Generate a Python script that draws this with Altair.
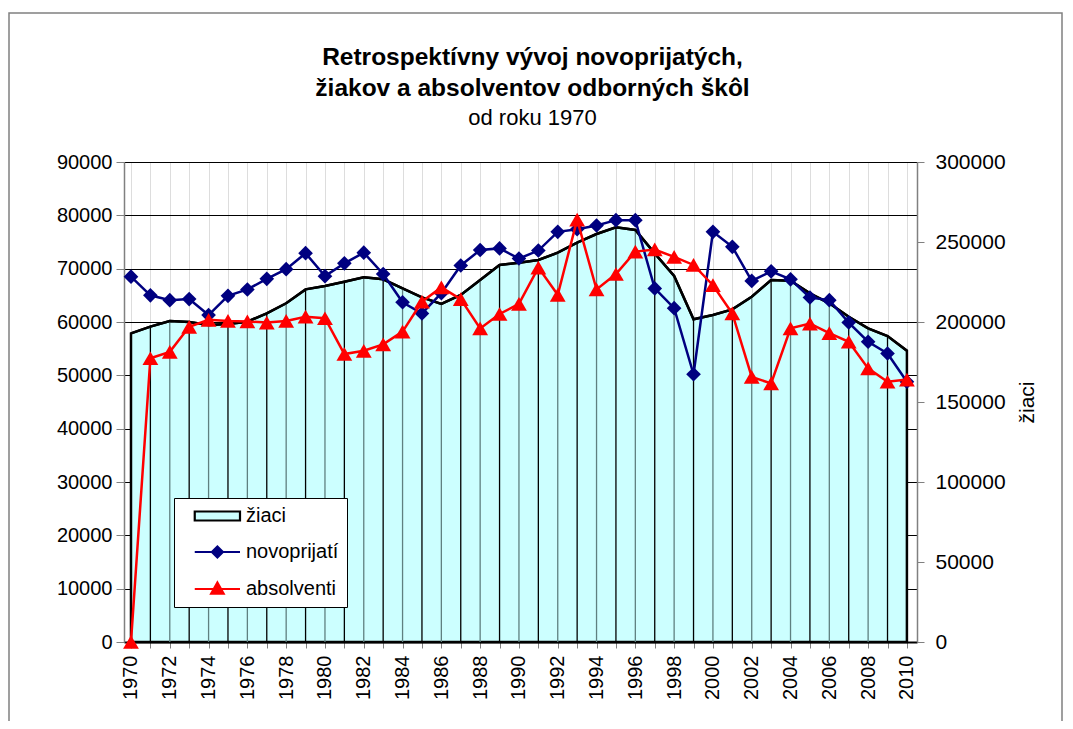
import altair as alt
import pandas as pd

years = list(range(1970, 2011))

ziaci = [192900, 197100, 200600, 200000, 198100, 198750, 200200, 205400, 211700, 220400,
         222500, 225200, 227900, 226700, 221000, 215400, 211250, 216900, 226250, 235600,
         237100, 238750, 243300, 249600, 255000, 259200, 257500, 242900, 228750, 201700,
         204400, 207900, 215800, 226250, 225800, 217900, 211700, 203300, 196000, 191250,
         182100]

novoprijati = [68500, 65000, 64100, 64300, 61300, 64900, 66100, 68100, 69900, 72900,
               68600, 71000, 73000, 69000, 63700, 61600, 65400, 70600, 73500, 73800,
               71900, 73400, 76900, 77400, 78100, 79100, 79100, 66300, 62600, 50200,
               76900, 74100, 67700, 69500, 68000, 64600, 64100, 59900, 56300, 54100,
               48800]

absolventi = [0, 53200, 54400, 59100, 60400, 60200, 60100, 59900, 60200, 61000,
              60700, 54000, 54600, 55800, 58200, 63800, 66500, 64300, 58800, 61500,
              63400, 70200, 65100, 79200, 66100, 69000, 73200, 73600, 72200, 70700,
              66900, 61600, 49700, 48500, 58800, 59700, 57900, 56300, 51300, 48800,
              49200]

series_names = ["žiaci", "novoprijatí", "absolventi"]
series_fill = ["#CCFFFF", "#000080", "#FF0000"]
series_stroke = ["#000000", "#000080", "#FF0000"]
legend_paths = [
    "M0.55,-0.9H9.6V0.9H0.55Z",
    "M0.55,0H9.6M5.08,-1.1L6.18,0L5.08,1.1L3.98,0Z",
    "M0.55,0H9.6M5.08,-1.3L6.33,0.95L3.83,0.95Z",
]

FONT = "Liberation Sans"

df_z = pd.DataFrame({"year": years, "ziaci": ziaci})
df_z["base"] = 0
df_z["dc"] = ["#000000" if (i % 2 == 1 or i == 0 or i == len(years) - 1) else "#5F8080"
              for i in range(len(years))]

df_l = pd.concat([
    pd.DataFrame({"year": years, "value": novoprijati, "series": "novoprijatí"}),
    pd.DataFrame({"year": years, "value": absolventi, "series": "absolventi"}),
], ignore_index=True)

x_enc = alt.X(
    "year:Q",
    scale=alt.Scale(domain=[1969.64, 2010.52], nice=False, zero=False),
    axis=alt.Axis(
        values=years, format="d",
        labelExpr="datum.value % 2 == 0 ? datum.label : ''",
        labelAngle=-90, labelFontSize=20, labelFont=FONT, labelColor="black",
        labelOverlap=False, labelFlush=False, labelBound=False, labelPadding=7,
        tickSize=6, tickColor="#808080", domainColor="black", domainWidth=2,
        title=None,
    ),
)

y_right = alt.Y(
    "ziaci:Q",
    scale=alt.Scale(domain=[0, 300000], nice=False, zero=True),
    axis=alt.Axis(
        orient="right", values=list(range(0, 300001, 50000)), format="d",
        grid=False, labelFontSize=21, labelFont=FONT, labelColor="black",
        tickSize=7, tickColor="#808080", domainColor="#808080", domainWidth=1.5,
        labelPadding=11,
        title="žiaci", titleFont=FONT, titleFontSize=21, titleFontWeight="normal",
        titleColor="black", titleAngle=270, titlePadding=32,
    ),
)

y_left = alt.Y(
    "value:Q",
    scale=alt.Scale(domain=[0, 90000], nice=False, zero=True),
    axis=alt.Axis(
        orient="left", values=list(range(0, 90001, 10000)), format="d",
        grid=True, gridColor="black", gridWidth=1, gridOpacity=1,
        labelFontSize=20, labelFont=FONT, labelColor="black",
        tickSize=8, tickColor="#808080", domainColor="#808080", domainWidth=1.5,
        labelPadding=4, title=None,
    ),
)

color_scale = alt.Scale(domain=series_names, range=series_fill)

# outer frame of the chart area
frame = alt.Chart(pd.DataFrame({"k": [0]})).mark_rect(
    fill="transparent", stroke="#808080", strokeWidth=1.5
).encode(
    x=alt.value(-115), x2=alt.value(938), y=alt.value(-149), y2=alt.value(700)
)

area = alt.Chart(df_z).mark_area(
    fill="#CCFFFF", stroke="black", strokeWidth=2.5, opacity=1
).encode(x=x_enc, y=y_right)

drops = alt.Chart(df_z).mark_rule(strokeWidth=1.3).encode(
    x=x_enc,
    y=alt.Y("ziaci:Q"),
    y2=alt.Y2("base:Q"),
    color=alt.Color("dc:N", scale=None),
)

ztop = alt.Chart(df_z).mark_line(color="black", strokeWidth=2.5).encode(
    x=x_enc, y=alt.Y("ziaci:Q")
)

right_layer = alt.layer(area, drops, ztop)

base = alt.Chart(df_l)


def series_layers(name, color, shape, size):
    sub = base.transform_filter(alt.datum.series == name)
    ln = sub.mark_line(strokeWidth=2.5, color=color).encode(x=x_enc, y=y_left)
    pt = sub.mark_point(filled=True, shape=shape, size=size, opacity=1, color=color).encode(
        x=x_enc, y=alt.Y("value:Q"),
    )
    return [ln, pt]


legend = alt.Legend(
    title=None, orient="none", legendX=50, legendY=336,
    fillColor="white", strokeColor="black", padding=8,
    labelFontSize=20, labelFont=FONT, labelColor="black", labelOffset=44,
    labelLimit=0, symbolSize=100, symbolStrokeWidth=2.2, rowPadding=16,
    symbolOpacity=1,
)

legend_layer = base.transform_filter("false").mark_point(
    filled=True, size=100, opacity=1, strokeWidth=2.2
).encode(
    x=x_enc, y=alt.Y("value:Q"),
    color=alt.Color("series:N", scale=color_scale, legend=legend),
    shape=alt.Shape("series:N", scale=alt.Scale(domain=series_names, range=legend_paths),
                    legend=legend),
    stroke=alt.Stroke("series:N", scale=alt.Scale(domain=series_names, range=series_stroke),
                      legend=legend),
)

left_layer = alt.layer(
    *series_layers("novoprijatí", "#000080", "diamond", 215),
    *series_layers("absolventi", "#FF0000", "triangle-up", 250),
    legend_layer,
)

chart = alt.layer(frame, right_layer, left_layer).resolve_scale(
    y="independent"
).properties(
    width=793, height=480,
    autosize=alt.AutoSizeParams(type="none"),
    padding={"left": 116, "top": 154, "right": 148, "bottom": 79},
    title=alt.TitleParams(
        text=["Retrospektívny vývoj novoprijatých,", "žiakov a absolventov odborných škôl"],
        subtitle="od roku 1970",
        font=FONT, fontSize=24.5, fontWeight="bold", color="black", lineHeight=31,
        subtitleFont=FONT, subtitleFontSize=22, subtitleFontWeight="normal",
        subtitleColor="black", subtitlePadding=7, subtitleLineHeight=31,
        anchor="middle", dx=12, offset=-118,
    ),
).configure_view(
    fill="#FFFFCC", stroke="#808080", strokeWidth=1.5
).configure_axis(
    labelOverlap=False
).configure(background="white")

chart.save("out.html", embed_options={"renderer": "svg", "actions": False})
